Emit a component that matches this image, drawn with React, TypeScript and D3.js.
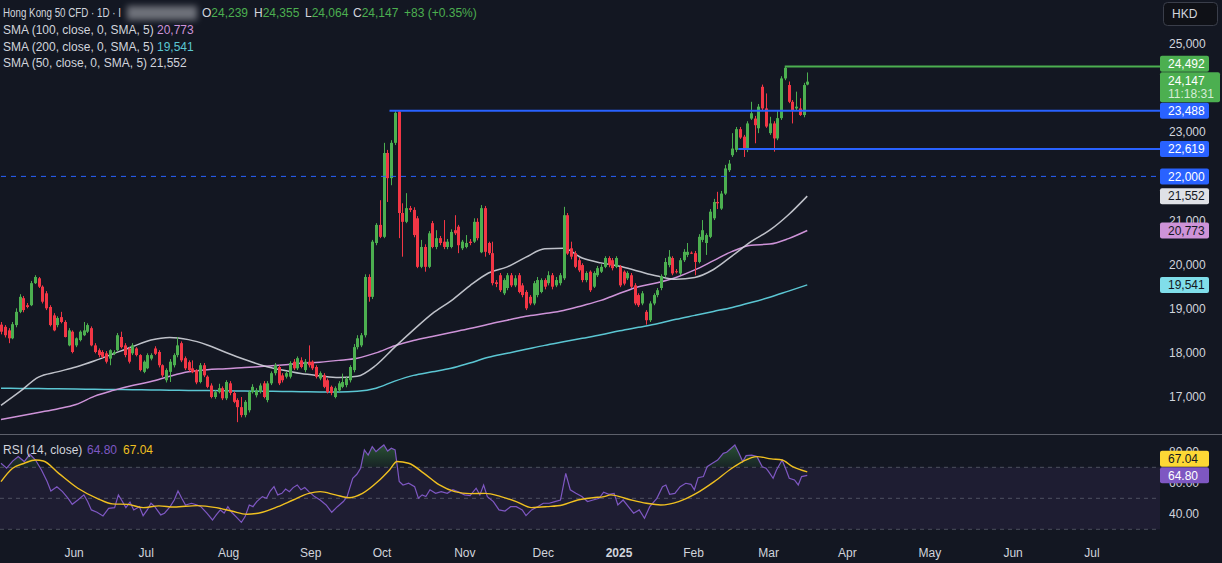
import React from "react";
import * as d3 from "d3";

// ---------- DATA ----------
// daily candles [open, high, low, close], bar 0 .. 215
const ohlc: [number, number, number, number][] = [
  [18640,18700,18420,18480],[18590,18630,18350,18400],[18510,18560,18220,18330],[18330,18700,18310,18650],
  [18630,19010,18580,18930],[18930,19330,18900,19270],[19240,19290,18920,18970],[19080,19130,19010,19040],
  [19080,19630,19060,19580],[19580,19760,19560,19720],[19690,19720,19470,19500],[19500,19530,19120,19160],
  [19350,19400,18970,19010],[19040,19080,18600,18630],[18850,18900,18490,18510],[18630,18830,18580,18790],
  [18810,18930,18670,18700],[18700,18740,18350,18360],[18170,18560,18150,18510],[18480,18510,17990,18020],
  [18170,18350,18130,18330],[18290,18510,18260,18480],[18400,18700,18380,18510],[18480,18670,18450,18630],
  [18560,18600,18150,18170],[18170,18220,17990,18020],[18060,18100,17900,17950],[18020,18060,17880,17910],
  [17990,18040,17760,17800],[17870,18080,17720,18060],[17980,18060,17950,18020],[18060,18450,18040,18400],
  [18360,18480,18100,18130],[18170,18220,17900,17950],[18100,18130,17760,17800],[17990,18220,17950,18170],
  [18100,18130,17920,17950],[17950,17970,17580,17610],[17570,17830,17540,17800],[17650,17990,17630,17950],
  [17870,17990,17830,17950],[18100,18150,17950,17980],[18020,18060,17670,17720],[17720,17740,17450,17490],
  [17380,17650,17330,17610],[17570,17860,17340,17800],[17720,17990,17670,17950],[17950,18360,17900,18170],
  [18220,18260,17790,17830],[17880,17920,17610,17650],[17790,17830,17580,17610],[17650,17830,17540,17560],
  [17610,17630,17290,17330],[17340,17770,17310,17720],[17720,17770,17450,17490],[17460,17490,17200,17230],
  [17260,17310,16970,17000],[17000,17150,16960,17110],[17110,17300,17080,17200],[17200,17240,16930,16970],
  [16970,17380,16930,17340],[17310,17360,17040,17090],[17090,17130,16860,16890],[16930,16970,16430,16770],
  [16770,17000,16540,16590],[16590,16930,16540,16890],[16700,17150,16650,17110],[17110,17290,17080,17230],
  [17040,17200,16990,17150],[17110,17310,17080,17260],[17310,17360,16970,17000],[16930,17360,16880,17310],
  [17310,17580,17270,17540],[17540,17770,17490,17720],[17680,17720,17270,17310],[17490,17540,17330,17380],
  [17460,17580,17420,17540],[17460,17810,17420,17770],[17800,17860,17610,17650],[17650,17920,17610,17880],
  [17830,17900,17650,17680],[17610,17860,17560,17800],[17800,18170,17670,17720],[17800,17830,17610,17650],
  [17680,17720,17420,17460],[17420,17580,17380,17540],[17490,17540,17200,17230],[17380,17420,17080,17110],
  [17230,17260,17040,17090],[17000,17240,16970,17200],[17150,17360,17110,17310],[17230,17530,17200,17340],
  [17270,17470,17220,17420],[17380,17720,17330,17680],[17610,18200,17560,18130],[18130,18400,18080,18330],
  [18170,18450,18130,18400],[18400,19780,18350,19720],[19720,19780,19160,19270],[19270,20560,19220,20520],
  [20490,20940,20440,20900],[20900,21460,20600,20630],[20630,22760,20600,22530],[22530,22600,21420,21960],
  [21960,22820,21800,22760],[22760,23488,22710,23440],[23470,23500,20600,21170],[21170,21390,20180,20970],
  [20970,21620,20940,21280],[21280,21330,21190,21240],[21240,21300,20620,20670],[21050,21100,19920,19950],
  [19950,20560,19920,20400],[20400,20460,19840,19950],[19950,20760,19920,20710],[20940,20990,20370,20400],
  [20400,20780,20350,20600],[20600,20650,20440,20490],[20520,21010,20350,20400],[20400,20580,20350,20520],
  [20400,20800,20370,20740],[20780,21120,20670,20710],[20860,20900,20260,20440],[20370,20560,20330,20520],
  [20400,20670,20370,20490],[20520,20580,20440,20490],[20520,21050,20490,20970],[20970,21050,20550,20600],
  [20280,21350,20260,21280],[21280,21330,20180,20290],[20490,20520,20220,20260],[20260,20520,19530,19580],
  [19600,19650,19490,19560],[19760,19810,19380,19420],[19350,19690,19310,19650],[19470,19810,19420,19760],
  [19760,19810,19490,19530],[19530,19760,19490,19690],[19760,19810,19350,19380],[19530,19580,19260,19310],
  [19380,19420,18970,19010],[19270,19310,19080,19120],[19120,19630,19080,19580],[19310,19720,19260,19650],
  [19380,19690,19350,19650],[19650,19690,19440,19500],[19580,19850,19530,19760],[19760,19810,19440,19500],
  [19530,19720,19490,19650],[19580,19810,19530,19760],[19690,21310,19650,21120],[21120,21170,20220,20250],
  [20370,20520,20120,20180],[20260,20310,19920,19950],[20100,20150,19830,19870],[19990,20030,19600,19650],
  [19650,19850,19600,19810],[19840,19870,19380,19420],[19500,19850,19470,19810],[19760,19970,19720,19920],
  [19840,20010,19810,19950],[19950,20190,19920,20150],[20150,20190,19940,19990],[20100,20150,19870,19920],
  [19950,20190,19920,20150],[19950,19990,19490,19530],[19840,19870,19530,19570],[19690,19850,19650,19810],
  [19760,19810,19470,19500],[19530,19580,19080,19120],[19310,19350,19040,19080],[19120,19400,19080,19350],
  [18930,18970,18640,18740],[18740,19170,18700,19120],[19120,19350,19080,19310],[19310,19470,19260,19420],
  [19470,19780,19420,19740],[19760,20150,19720,20060],[19990,20330,19940,20180],[20150,20190,19760,19800],
  [19850,19900,19800,19830],[19800,20150,19760,20100],[20100,20350,20060,20290],[20220,20490,20170,20290],
  [20270,20300,20240,20260],[20260,20310,19760,20060],[20060,20690,20030,20630],[20560,21010,20510,20780],
  [20490,20710,20220,20670],[20630,21260,20600,21200],[21050,21490,21010,21420],[21420,21650,21260,21390],
  [21270,21670,21240,21610],[21610,22260,21580,22180],[22140,22370,22100,22290],[22480,22980,22440,22630],
  [22600,23120,22550,23070],[23070,23120,22850,22880],[22900,22940,22440,22600],[22600,23250,22550,23200],
  [23310,23690,23280,23430],[23310,23370,22750,23160],[23090,23640,22980,23580],[24030,24080,23500,23540],
  [23540,23880,23100,23130],[22980,23350,22940,23200],[23200,23250,22560,22860],[22860,23500,22820,23320],
  [23320,24270,23280,24220],[24220,24492,24180,24460],[24070,24150,23660,23690],[23690,23730,23200,23500],
  [23540,23920,23500,23580],[23540,23770,23370,23390],[23390,24120,23340,24070],[24080,24355,24064,24147],
];

// moving averages read every 5 bars (bars 0,5,...,215)
const smaStep = 5;
const sma50 = [16810,17120,17450,17570,17680,17820,17980,18140,18290,18350,18300,18180,18010,17850,17710,17610,17530,17480,17440,17470,17720,18130,18520,18890,19180,19520,19810,19950,20170,20360,20370,20150,20040,19965,19850,19740,19670,19710,19890,20200,20520,20780,21130,21552];
const sma100 = [16490,16570,16650,16730,16830,17020,17150,17260,17350,17470,17570,17620,17640,17670,17695,17725,17765,17790,17830,17880,18000,18160,18280,18370,18460,18550,18650,18740,18830,18890,18960,19070,19190,19350,19500,19590,19710,19880,20090,20300,20440,20465,20590,20773];
const sma200 = [17200,17195,17190,17185,17180,17175,17170,17165,17160,17155,17150,17145,17140,17135,17130,17125,17120,17115,17115,17130,17200,17360,17490,17570,17650,17770,17900,17990,18080,18170,18250,18330,18410,18500,18580,18660,18760,18850,18940,19030,19140,19260,19400,19541];

// RSI(14) readings [bar, value]
const rsiPoints: [number, number][] = [
  [0,72.6],[1.5,69.4],[3.1,74],[4.6,77],[6.2,73.7],[7.7,78.4],[9.2,74.7],[10.8,68.3],[12.3,60.8],[13.3,54.7],[14.9,57.5],[16.4,54.3],[17.9,50],[19,46.1],[20.5,48.9],[22.1,52.2],[23.1,47.9],[24.1,42.5],[25.6,41],[27.2,38.6],[28.7,43.5],[30.3,44],[31.3,52.2],[32.3,48.3],[33.3,44],[34.4,47.5],[35.4,42.5],[36.9,44.6],[37.9,38.8],[39,42.5],[40,46.8],[41,44.6],[42.6,39.3],[43.6,40.4],[45.1,44.6],[46.2,48.9],[47.2,54.7],[48.2,50],[49.2,45.7],[50.8,46.8],[52.3,45.7],[53.3,44.6],[54.9,40.4],[56.4,36],[57.4,39.3],[58.5,42.5],[59.5,40.4],[60.5,44.6],[61.5,41],[63.1,37.1],[64.1,34.5],[65.1,38.2],[66.2,45.7],[67.2,44.6],[68.2,47.9],[69.7,51.1],[70.8,50],[71.8,54.7],[72.8,57.5],[73.8,52.2],[74.9,53.2],[75.9,56],[76.9,54.3],[77.9,56.9],[79,58.6],[80,55.5],[81,56.9],[82.1,54.3],[83.6,51.1],[85.1,48.9],[86.7,45.7],[88.2,41],[89.7,44.6],[91.3,47.9],[92.3,51.1],[93.8,62.9],[94.9,65.5],[95.9,69.4],[96.9,81.2],[97.9,77.9],[99,83.3],[100,80.1],[101,82.3],[102.1,84.4],[103.1,80.5],[104.1,82.3],[105.1,81.2],[106.2,60.8],[107.2,58.6],[108.7,59.7],[110.3,57.5],[111.3,50],[112.3,52.2],[113.3,51.1],[114.4,55.5],[115.9,53.2],[117.4,54.3],[119,53.2],[120.5,55.5],[122.1,54],[123.6,52.2],[125.1,51.7],[126.7,56.5],[127.7,52.2],[128.7,58.6],[129.7,51.1],[131.3,47.9],[132.8,42.5],[134.4,41.8],[135.9,44.6],[137.4,44.6],[139,42.5],[140,38.8],[141.5,42.5],[143.1,44.6],[144.6,46.8],[146.2,46.8],[147.7,47.9],[149.2,48.9],[150.6,66.1],[151.8,55.5],[153.3,53.2],[154.9,51.1],[156.4,47.9],[157.9,48.9],[159.5,50],[160.7,53.9],[162.1,52.6],[163.5,53.2],[164.5,45.7],[165.9,48.9],[167.3,44.6],[168.7,40.4],[170.2,42.5],[171.6,37.1],[173,44.6],[174.9,50],[176.4,57.5],[177.3,58.6],[178.3,52.6],[179.7,53.2],[181.1,57.5],[182.6,59.7],[184,59],[184.9,55.5],[185.9,63.3],[187.3,64],[188.3,70.4],[189.7,72.6],[191.1,74.7],[192.6,79],[193.5,79.7],[194.5,81.8],[195.7,84.4],[196.8,79],[197.8,73.7],[198.7,77.5],[200.2,77.9],[201.6,76.9],[203,70.4],[204,69.4],[204.7,67.2],[205.9,62.9],[206.8,68.3],[208.3,74.7],[209.2,69.4],[210.2,62.9],[211.6,61.8],[212.6,58.6],[213.5,64],[215,64.8],
];
// RSI-based moving average readings [bar, value]
const rsiMaPoints: [number, number][] = [
  [0,60.8],[3.1,69.4],[6.2,72.6],[9.2,74.7],[11.3,74.1],[15.4,66.1],[20.5,56.5],[25.6,50],[29.7,46.4],[33.8,46.1],[37.9,44],[42.1,45.1],[46.2,44.4],[52.3,45.3],[57.4,44],[61.5,41.8],[65.6,39.7],[69.7,41],[73.8,44.6],[77.9,48.9],[82.1,53.2],[85.1,54.3],[89.2,52.2],[92.8,50.4],[96.4,53.2],[100.5,60.8],[103.6,68.3],[105.6,73.7],[108.7,72.6],[112.8,66.1],[116.9,58.6],[121,54.3],[125.1,53],[129.2,53.2],[133.3,51.1],[137.4,47.9],[141.5,44],[145.6,44.6],[149.7,45.7],[153.8,48.9],[157.9,50.4],[160.8,51.1],[162.6,52.2],[167.3,49.4],[172.1,46.8],[175.9,45.7],[180.7,47.9],[185.4,53.2],[190.2,60.8],[194.9,69.4],[197.8,73.7],[201.6,76.9],[205.4,75.4],[208.3,74.7],[211.1,70.4],[215,67.04],
];

// horizontal levels drawn on chart
const levelValues = [24492, 23488, 22619, 22000];
const levelStartBars = [209, 103.6, 196.6, 0];

const priceTicks = [17000, 18000, 19000, 20000, 21000, 22000, 23000, 24000, 25000];
const rsiTicks = [80, 60, 40];
const rsiBands = [70, 50, 30];
const monthNames = ["Jun", "Jul", "Aug", "Sep", "Oct", "Nov", "Dec", "2025", "Feb", "Mar", "Apr", "May", "Jun", "Jul"];
const monthBars = [19.5, 38.7, 60.7, 82.6, 101.6, 123.7, 144.6, 164.8, 184.7, 204.7, 225.7, 247.7, 269.9, 290.9];

const titleText = "Hong Kong 50 CFD · 1D · I";
const legendOHLC = ["24,239", "24,355", "24,064", "24,147"];
const legendChange = "+83 (+0.35%)";
const smaLegend = ["SMA (100, close, 0, SMA, 5)", "SMA (200, close, 0, SMA, 5)", "SMA (50, close, 0, SMA, 5)"];
const lastClose = 24147;
const countdown = "11:18:31";
const rsiLast = 64.8;
const rsiMaLast = 67.04;

// ---------- STYLE ----------
const BG = "#131722";
const UP = "#4caf50";
const DOWN = "#f23645";
const BLUE = "#2962ff";
const C50 = "#d1d4dc";
const C100 = "#ce93d8";
const C200 = "#5bc6d3";
const RSI_C = "#7e57c2";
const MA_C = "#f0c020";
const TXT = "#d1d4dc";
const FONT = "'Liberation Sans', Arial, sans-serif";
const PLOT_R = 1160;

const fmt = d3.format(",.0f");

export default function App() {
  const xS = d3.scaleLinear().domain([0, 215]).range([1, 807.25]);
  const yP = d3.scaleLinear().domain([17000, 25000]).range([397, 44]);
  const yR = d3.scaleLinear().domain([30, 70]).range([529.3, 467.3]);

  const smaLine = d3
    .line<number>()
    .x((_, k) => xS(k * smaStep))
    .y((v) => yP(v))
    .curve(d3.curveMonotoneX);

  const rsiLine = d3
    .line<[number, number]>()
    .x((d) => xS(d[0]))
    .y((d) => yR(d[1]));
  const rsiArea = d3
    .area<[number, number]>()
    .x((d) => xS(d[0]))
    .y0(yR(70))
    .y1((d) => yR(d[1]));
  const maLine = d3
    .line<[number, number]>()
    .x((d) => xS(d[0]))
    .y((d) => yR(d[1]))
    .curve(d3.curveMonotoneX);

  type TagT = { y: number; h: number; fill: string; color: string; text: string; sub?: string; w: number };
  const s50 = sma50[sma50.length - 1];
  const s100 = sma100[sma100.length - 1];
  const s200 = sma200[sma200.length - 1];
  const priceTags: TagT[] = [
    { y: yP(lastClose), h: 30, fill: UP, color: "#fff", text: fmt(lastClose), sub: countdown, w: 60 },
    { y: yP(levelValues[0]), h: 16, fill: UP, color: "#fff", text: fmt(levelValues[0]), w: 49 },
    { y: yP(levelValues[1]), h: 16, fill: BLUE, color: "#fff", text: fmt(levelValues[1]), w: 49 },
    { y: yP(levelValues[2]), h: 16, fill: BLUE, color: "#fff", text: fmt(levelValues[2]), w: 49 },
    { y: yP(levelValues[3]), h: 16, fill: BLUE, color: "#fff", text: fmt(levelValues[3]), w: 49 },
    { y: yP(s50), h: 16, fill: "#dfe1e6", color: "#131722", text: fmt(s50), w: 49 },
    { y: yP(s100), h: 16, fill: C100, color: "#131722", text: fmt(s100), w: 49 },
    { y: yP(s200), h: 16, fill: "#80deea", color: "#131722", text: fmt(s200), w: 49 },
  ];
  const laid = priceTags.map((t) => ({ ...t, top: t.y - 8 }));
  laid.sort((a, b) => b.top - a.top);
  for (let k = 1; k < laid.length; k++) {
    const below = laid[k - 1];
    const cur = laid[k];
    if (cur.top + cur.h > below.top) cur.top = below.top - cur.h - 0.5;
  }
  // axis ticks that are fully hidden by a tag are not drawn (as in the reference)
  const visibleTicks = priceTicks.filter((p) => {
    const ty = yP(p);
    return !laid.some((t) => t.top <= ty - 4 && t.top + t.h >= ty + 4);
  });

  const rsiTags = [
    { y: yR(rsiLast), fill: RSI_C, color: "#fff", text: rsiLast.toFixed(2) },
    { y: yR(rsiMaLast), fill: "#fdd835", color: "#131722", text: rsiMaLast.toFixed(2) },
  ].map((t) => ({ ...t, top: t.y - 8 }));
  if (rsiTags[1].top + 16 > rsiTags[0].top) rsiTags[1].top = rsiTags[0].top - 16.5;

  return (
    <svg
      width={1222}
      height={563}
      style={{ position: "fixed", left: 0, top: 0, display: "block" }}
      fontFamily={FONT}
    >
      <defs>
        <clipPath id="mainClip">
          <rect x={0} y={0} width={PLOT_R} height={434} />
        </clipPath>
        <clipPath id="obClip">
          <rect x={0} y={436} width={PLOT_R} height={yR(70) - 436} />
        </clipPath>
        <clipPath id="rsiAxisClip">
          <rect x={1160} y={436} width={62} height={100} />
        </clipPath>
        <linearGradient id="obGrad" x1="0" y1="440" x2="0" y2={yR(70)} gradientUnits="userSpaceOnUse">
          <stop offset="0" stopColor="rgba(76,175,80,0.45)" />
          <stop offset="1" stopColor="rgba(76,175,80,0.08)" />
        </linearGradient>
        <filter id="blurF" x="-20%" y="-50%" width="140%" height="200%">
          <feGaussianBlur stdDeviation="3" />
        </filter>
      </defs>
      <rect x={0} y={0} width={1222} height={563} fill={BG} />

      {/* ---- main pane ---- */}
      <g clipPath="url(#mainClip)">
        <path d={smaLine(sma200) || ""} fill="none" stroke={C200} strokeWidth={1.5} />
        <path d={smaLine(sma100) || ""} fill="none" stroke={C100} strokeWidth={1.5} />
        <path d={smaLine(sma50) || ""} fill="none" stroke={C50} strokeWidth={1.5} opacity={0.9} />

        {ohlc.map(([o, h, l, c], i) => {
          const col = c >= o ? UP : DOWN;
          const cx = Math.round(xS(i));
          const top = yP(Math.max(o, c));
          const bh = Math.max(1, Math.abs(yP(o) - yP(c)));
          return (
            <g key={i}>
              <rect x={cx} y={yP(h)} width={1} height={Math.max(1, yP(l) - yP(h))} fill={col} />
              <rect x={cx - 1} y={top} width={3} height={bh} fill={col} />
            </g>
          );
        })}

        {levelValues.map((v, k) => (
          <line
            key={k}
            x1={xS(levelStartBars[k])}
            x2={PLOT_R}
            y1={yP(v)}
            y2={yP(v)}
            stroke={k === 0 ? UP : BLUE}
            strokeWidth={k === 3 ? 1 : 2}
            strokeDasharray={k === 3 ? "5,5" : undefined}
          />
        ))}
      </g>

      <line x1={0} x2={1222} y1={434.5} y2={434.5} stroke="#5d606b" strokeWidth={1} />

      {/* ---- RSI pane ---- */}
      <rect x={0} y={yR(70)} width={PLOT_R} height={yR(30) - yR(70)} fill="rgba(126,87,194,0.1)" />
      {rsiBands.map((b) => (
        <line key={b} x1={0} x2={PLOT_R} y1={yR(b)} y2={yR(b)} stroke="#787b86" strokeOpacity={0.55} strokeDasharray="4,4" />
      ))}
      <path d={rsiArea(rsiPoints) || ""} fill="url(#obGrad)" clipPath="url(#obClip)" />
      <path d={rsiLine(rsiPoints) || ""} fill="none" stroke={RSI_C} strokeWidth={1.2} />
      <path d={maLine(rsiMaPoints) || ""} fill="none" stroke={MA_C} strokeWidth={1.4} />

      {/* ---- price axis ---- */}
      {visibleTicks.map((p) => (
        <text key={p} x={1169} y={yP(p) + 4} fontSize={12} fill={TXT}>
          {fmt(p)}
        </text>
      ))}
      {laid.map((t, k) => (
        <g key={k}>
          <rect x={1160} y={t.top} width={t.w} height={t.h} rx={2} fill={t.fill} />
          <text x={1168} y={t.top + 12.3} fontSize={12} fill={t.color}>
            {t.text}
          </text>
          {t.sub && (
            <text x={1168} y={t.top + 26} fontSize={12} fill="rgba(255,255,255,0.78)">
              {t.sub}
            </text>
          )}
        </g>
      ))}

      {/* RSI axis */}
      {rsiTicks.map((r) => (
        <text key={r} x={1169} y={yR(r) + 4} fontSize={12} fill={TXT}>
          {r.toFixed(2)}
        </text>
      ))}
      {rsiTags.map((t, k) => (
        <g key={k}>
          <rect x={1160} y={t.top} width={49} height={16} rx={2} fill={t.fill} />
          <text x={1168} y={t.top + 12.3} fontSize={12} fill={t.color}>
            {t.text}
          </text>
        </g>
      ))}

      {/* time axis */}
      {monthNames.map((m, k) => (
        <text
          key={k}
          x={xS(monthBars[k])}
          y={557}
          fontSize={12}
          textAnchor="middle"
          fill={TXT}
          fontWeight={m === "2025" ? "bold" : "normal"}
        >
          {m}
        </text>
      ))}

      {/* currency button */}
      <rect x={1163.5} y={2.5} width={54} height={23} rx={4} fill="#0f1117" stroke="#3a3e4a" />
      <text x={1172} y={18} fontSize={12} fill={TXT}>
        HKD
      </text>

      {/* ---- legends ---- */}
      <g fontSize={12}>
        <text x={3} y={17} fill={TXT} textLength={118} lengthAdjust="spacingAndGlyphs">{titleText}</text>
        <rect x={127} y={6} width={70} height={14} fill="#c9cbd1" opacity={0.5} filter="url(#blurF)" />
        <text x={202} y={17} fill={TXT}>O<tspan fill={UP}>{legendOHLC[0]}</tspan></text>
        <text x={254} y={17} fill={TXT}>H<tspan fill={UP}>{legendOHLC[1]}</tspan></text>
        <text x={305} y={17} fill={TXT}>L<tspan fill={UP}>{legendOHLC[2]}</tspan></text>
        <text x={353} y={17} fill={TXT}>C<tspan fill={UP}>{legendOHLC[3]}</tspan></text>
        <text x={404} y={17} fill={UP}>{legendChange}</text>

        <text x={3} y={34} fill={TXT}>{smaLegend[0]}</text>
        <text x={157} y={34} fill={C100}>{fmt(s100)}</text>
        <text x={3} y={51} fill={TXT}>{smaLegend[1]}</text>
        <text x={157} y={51} fill={C200}>{fmt(s200)}</text>
        <text x={3} y={67} fill={TXT}>{smaLegend[2]}</text>
        <text x={150} y={67} fill={C50}>{fmt(s50)}</text>

        <text x={3} y={454} fill={TXT}>RSI (14, close)</text>
        <text x={87} y={454} fill={RSI_C}>{rsiLast.toFixed(2)}</text>
        <text x={123} y={454} fill={MA_C}>{rsiMaLast.toFixed(2)}</text>
      </g>
    </svg>
  );
}
